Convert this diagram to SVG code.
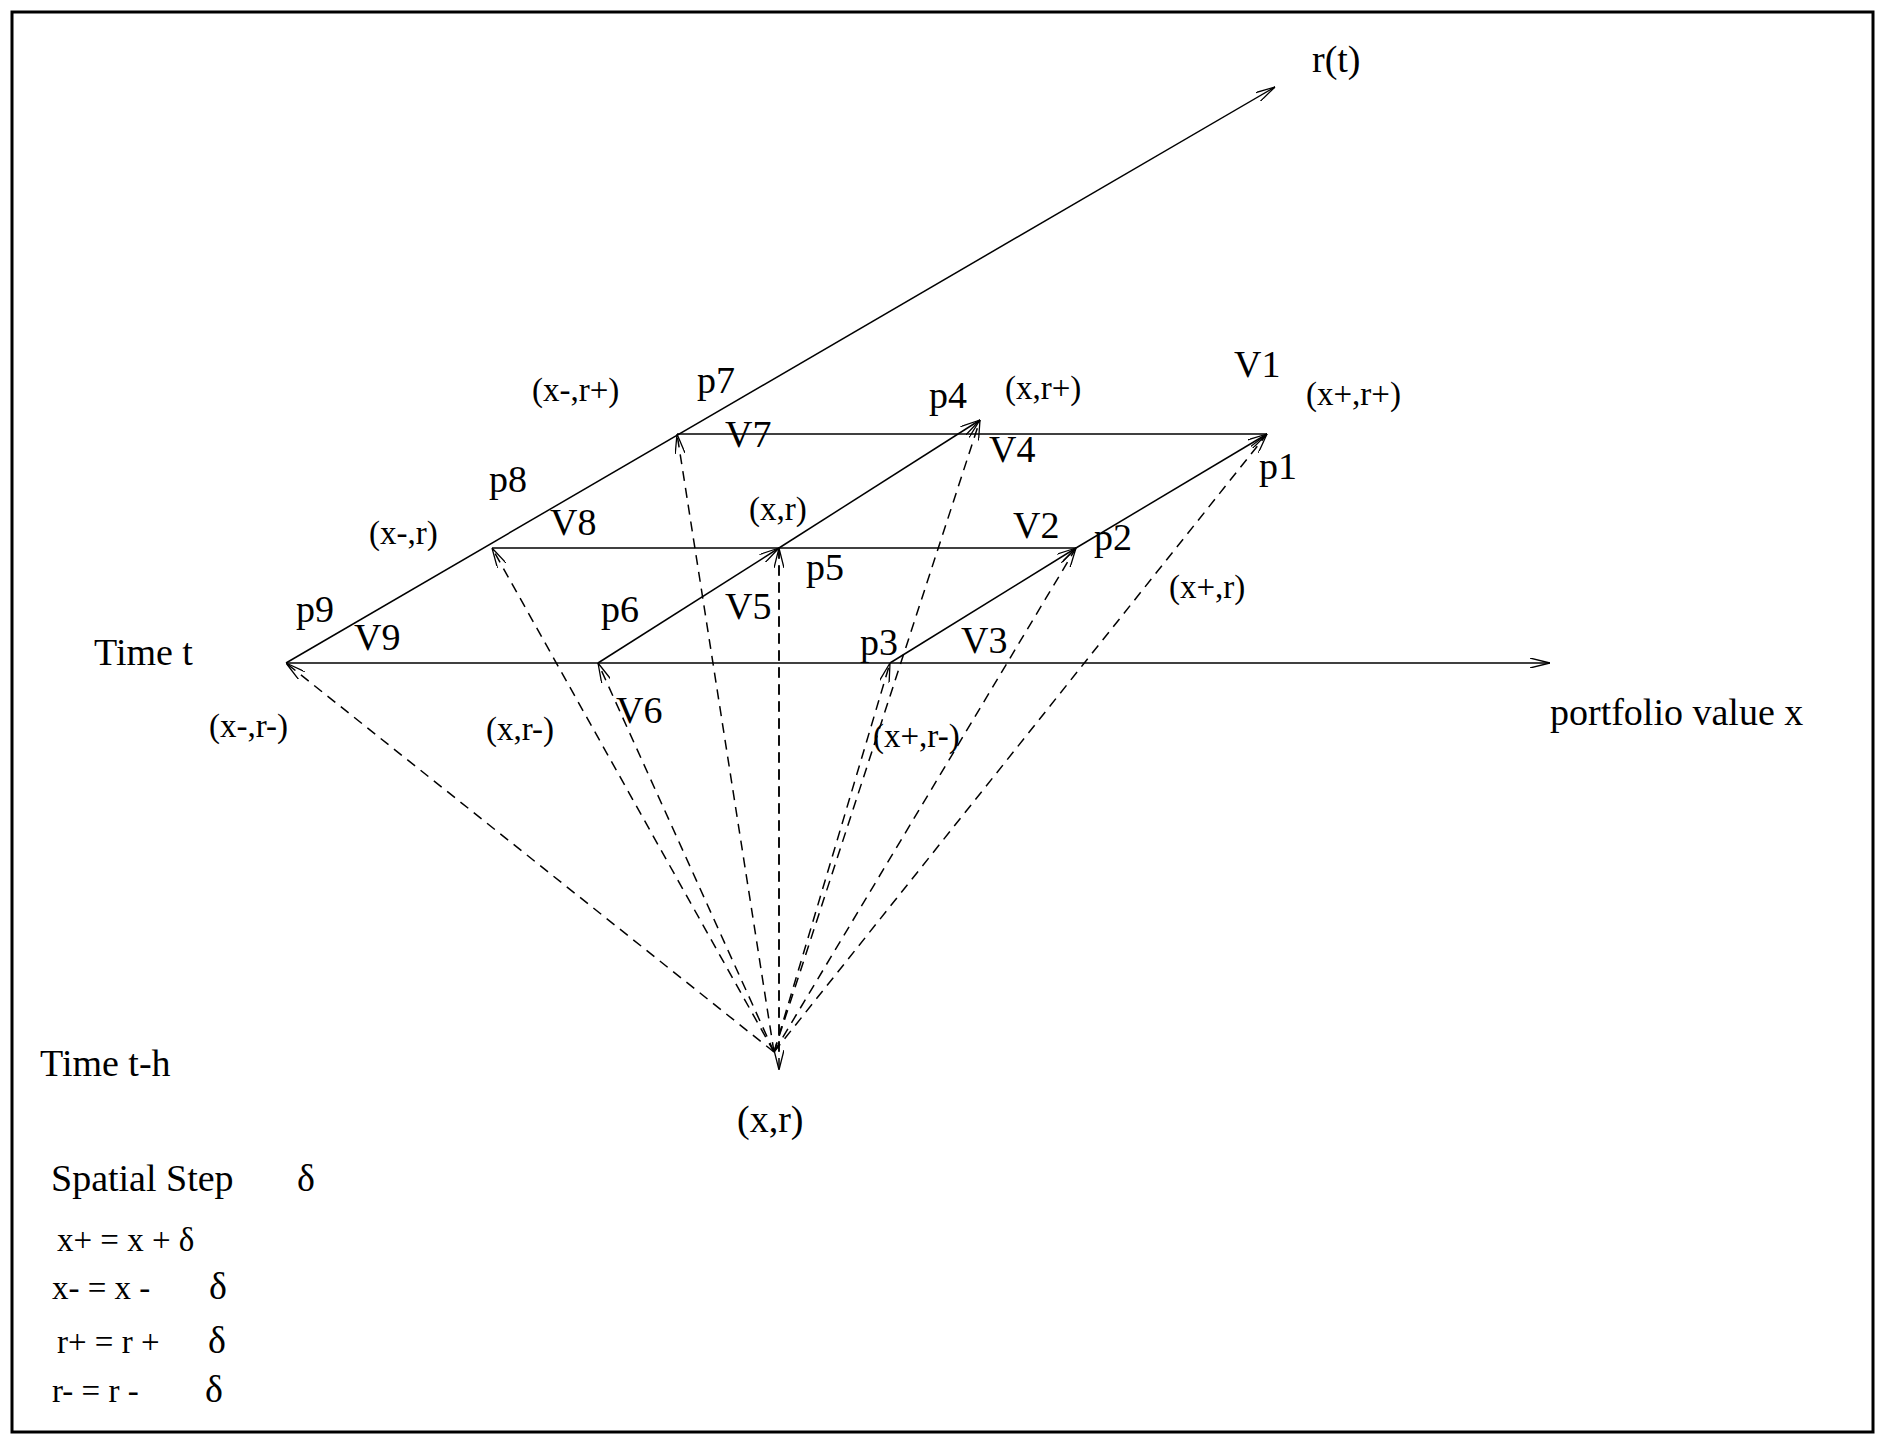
<svg xmlns="http://www.w3.org/2000/svg" width="1885" height="1440" viewBox="0 0 1885 1440">
<style>
text{font-family:"Liberation Serif","DejaVu Serif",serif;font-size:38px;fill:#000}
.s{font-size:33px}
.ln{stroke:#000;stroke-width:1.5;fill:none}
.d{stroke:#000;stroke-width:1.5;fill:none;stroke-dasharray:10 7}
</style>
<defs>
<marker id="a" viewBox="0 0 20 10" refX="20" refY="5" markerWidth="20" markerHeight="10" markerUnits="userSpaceOnUse" orient="auto">
<path d="M0,0 L20,5 L0,10" fill="none" stroke="#000" stroke-width="1.3"/>
</marker>
</defs>
<rect x="12" y="12" width="1861" height="1420" fill="#fff" stroke="#000" stroke-width="3"/>
<g id="connectors">
<line class="ln" x1="286" y1="663" x2="1550" y2="663" marker-end="url(#a)"/>
<line class="ln" x1="286" y1="663" x2="1275" y2="87" marker-end="url(#a)"/>
<line class="ln" x1="598" y1="663" x2="779" y2="548" marker-end="url(#a)"/>
<line class="ln" x1="779" y1="548" x2="980" y2="420" marker-end="url(#a)"/>
<line class="ln" x1="890" y1="663" x2="1076" y2="548" marker-end="url(#a)"/>
<line class="ln" x1="1076" y1="548" x2="1267" y2="434" marker-end="url(#a)"/>
<line class="ln" x1="492" y1="548" x2="1076" y2="548"/>
<line class="ln" x1="677" y1="434" x2="1267" y2="434"/>
<line class="d" x1="774" y1="1052" x2="286" y2="663" marker-end="url(#a)"/>
<line class="d" x1="774" y1="1052" x2="492" y2="548" marker-end="url(#a)"/>
<line class="d" x1="774" y1="1052" x2="677" y2="434" marker-end="url(#a)"/>
<line class="d" x1="774" y1="1052" x2="598" y2="663" marker-end="url(#a)"/>
<line class="d" x1="779" y1="1052" x2="779" y2="548" marker-end="url(#a)"/>
<line class="d" x1="779" y1="548" x2="779" y2="1070" marker-end="url(#a)"/>
<line class="d" x1="774" y1="1052" x2="980" y2="420" marker-end="url(#a)"/>
<line class="d" x1="774" y1="1052" x2="890" y2="663" marker-end="url(#a)"/>
<line class="d" x1="774" y1="1052" x2="1076" y2="548" marker-end="url(#a)"/>
<line class="d" x1="774" y1="1052" x2="1267" y2="434" marker-end="url(#a)"/>
</g>
<g id="labels">
<text x="1312" y="72">r(t)</text>
<text class="s" x="532" y="401">(x-,r+)</text>
<text x="697" y="393">p7</text>
<text x="929" y="408">p4</text>
<text class="s" x="1005" y="399">(x,r+)</text>
<text x="1234" y="377">V1</text>
<text class="s" x="1306" y="405">(x+,r+)</text>
<text x="725" y="447">V7</text>
<text x="989" y="462">V4</text>
<text x="1259" y="479">p1</text>
<text x="489" y="492">p8</text>
<text class="s" x="369" y="544">(x-,r)</text>
<text x="550" y="535">V8</text>
<text class="s" x="749" y="520">(x,r)</text>
<text x="1013" y="538">V2</text>
<text x="1094" y="550">p2</text>
<text x="806" y="580">p5</text>
<text class="s" x="1169" y="598">(x+,r)</text>
<text x="296" y="622">p9</text>
<text x="601" y="622">p6</text>
<text x="725" y="619">V5</text>
<text x="860" y="655">p3</text>
<text x="961" y="653">V3</text>
<text x="354" y="650">V9</text>
<text x="94" y="665">Time t</text>
<text class="s" x="209" y="737">(x-,r-)</text>
<text class="s" x="486" y="740">(x,r-)</text>
<text x="616" y="723">V6</text>
<text class="s" x="873" y="747">(x+,r-)</text>
<text x="1550" y="725">portfolio value  x</text>
<text x="40" y="1076">Time t-h</text>
<text x="737" y="1132">(x,r)</text>
<text x="51" y="1191">Spatial Step</text><text x="297" y="1191">δ</text>
<text class="s" x="57" y="1251">x+ = x + δ</text>
<text class="s" x="52" y="1299">x- = x -</text><text x="209" y="1299">δ</text>
<text class="s" x="57" y="1353">r+ = r +</text><text x="208" y="1353">δ</text>
<text class="s" x="52" y="1402">r- = r -</text><text x="205" y="1402">δ</text>
</g>
</svg>
